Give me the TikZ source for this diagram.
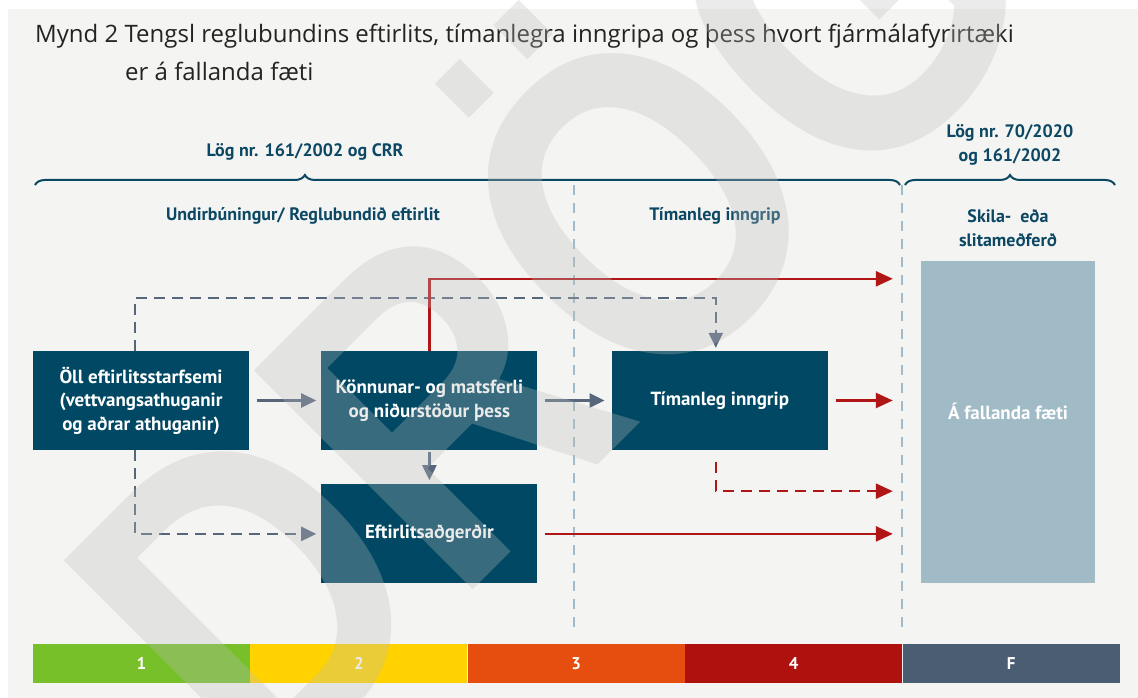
\documentclass[tikz,border=0pt]{standalone}
\usepackage{fontspec}
\setmainfont{PT Sans}
\newfontfamily\titlefont{Open Sans}
\newfontfamily\wmfont{Liberation Sans}
\usepackage{xcolor}
\usepackage{tikz}
\usetikzlibrary{arrows.meta,positioning,decorations.pathreplacing}

\definecolor{pagebg}{RGB}{244,244,242}
\definecolor{boxteal}{RGB}{0,72,99}
\definecolor{headteal}{RGB}{12,72,100}
\definecolor{endblue}{RGB}{160,186,198}
\definecolor{divblue}{RGB}{160,188,202}
\definecolor{arrowgray}{RGB}{86,103,124}
\definecolor{arrowred}{RGB}{176,22,22}
\definecolor{titlegray}{RGB}{35,35,35}
\definecolor{lvlgreen}{RGB}{120,192,42}
\definecolor{lvlyellow}{RGB}{255,210,0}
\definecolor{lvlorange}{RGB}{229,78,14}
\definecolor{lvlred}{RGB}{174,17,14}
\definecolor{lvlslate}{RGB}{74,93,115}
\definecolor{wmgray}{RGB}{188,188,188}

\begin{document}
\begin{tikzpicture}[
    x=1pt, y=1pt,
    box/.style={rectangle, fill=boxteal, text=white, minimum width=216pt, minimum height=99pt, inner sep=0pt, align=center, font=\bfseries\fontsize{19}{23.5}\selectfont},
    endbox/.style={rectangle, fill=endblue, text=white, minimum width=174pt, minimum height=322pt, inner sep=0pt, text depth=22pt, align=center, font=\bfseries\fontsize{19}{23.5}\selectfont},
    head/.style={text=headteal, align=center, inner sep=0pt, font=\bfseries\fontsize{18}{24}\selectfont},
    level/.style={rectangle, minimum width=217pt, minimum height=39pt, inner sep=0pt, text=white, font=\bfseries\fontsize{17}{17}\selectfont},
    grayarrow/.style={-{Triangle[length=15pt,width=14pt]}, line width=2.5pt, draw=arrowgray},
    graydash/.style={grayarrow, dash pattern=on 11pt off 7pt},
    redarrow/.style={-{Triangle[length=17pt,width=15pt]}, line width=2.5pt, draw=arrowred},
    reddash/.style={redarrow, dash pattern=on 11pt off 7pt},
    divider/.style={draw=divblue, line width=2pt, dash pattern=on 10pt off 8pt},
    bracket/.style={draw=headteal, line width=2pt, decorate, decoration={brace, amplitude=10pt}},
    wmark/.style={text=wmgray, text opacity=0.3, inner sep=0pt, font=\wmfont\bfseries\fontsize{450}{450}\selectfont}
]
    \useasboundingbox (0,0) rectangle (1138,698);
    \fill[pagebg] (8,0) rectangle (1138,689);

    % title
    \node[anchor=base west, inner sep=0pt, text=titlegray, font=\titlefont\fontsize{24}{24}\selectfont] (title) at (35,655) {Mynd 2 Tengsl reglubundins eftirlits, tímanlegra inngripa og þess hvort fjármálafyrirtæki};
    \node[anchor=base west, inner sep=0pt, text=titlegray, font=\titlefont\fontsize{24}{24}\selectfont] (title2) at (125,617) {er á fallanda fæti};

    % laws and phases
    \node[head] (law1) at (305,546) {Lög nr. 161/2002 og CRR};
    \node[head] (law2) at (1010,553) {Lög nr. 70/2020\\og 161/2002};
    \draw[bracket, decoration={aspect=0.312}] (35,513) -- (900,513);
    \draw[bracket] (905,513) -- (1115,513);

    \node[head] (prep) at (303,482) {Undirbúningur/ Reglubundið eftirlit};
    \node[head] (early) at (715,482) {Tímanleg inngrip};
    \node[head] (resol) at (1008,470) {Skila-\enspace eða\\slitameðferð};

    \draw[divider] (574,513) -- (574,66);
    \draw[divider] (902,513) -- (902,66);

    % boxes
    \node[box] (oll) at (141,297.5) {Öll eftirlitsstarfsemi\\(vettvangsathuganir\\og aðrar athuganir)};
    \node[box, right=72pt of oll] (konn) {Könnunar- og matsferli\\og niðurstöður þess};
    \node[box, below=34pt of konn] (eftir) {Eftirlitsaðgerðir};
    \node[box, right=74pt of konn] (timan) {Tímanleg inngrip};
    \node[endbox] (afall) at (1008,276) {Á fallanda fæti};

    % connectors
    \draw[grayarrow, shorten <=8pt, shorten >=5pt] (oll) -- (konn);
    \draw[grayarrow, shorten <=7pt, shorten >=7pt] (konn) -- (timan);
    \draw[grayarrow, shorten <=2pt, shorten >=4pt] (konn) -- (eftir);
    \draw[graydash, shorten >=3pt] ([xshift=-6pt]oll.north) -- ++(0,53) -| ([xshift=-4pt]timan.north);
    \draw[graydash, shorten >=5pt] ([xshift=-6pt]oll.south) |- (eftir.west);
    \draw[redarrow, shorten >=28pt] (konn.north) |- ([yshift=-18pt]afall.north west);
    \draw[redarrow, shorten <=8pt, shorten >=28pt] (timan.east) -- (timan.east -| afall.west);
    \draw[reddash, shorten <=12pt, shorten >=28pt] ([xshift=-4pt]timan.south) |- ([yshift=92pt]afall.south west);
    \draw[redarrow, shorten <=7pt, shorten >=28pt] (eftir.east) -- (eftir.east -| afall.west);

    % levels
    \node[level, fill=lvlgreen] (lvl1) at (141.5,34.5) {1};
    \node[level, fill=lvlyellow, right=0pt of lvl1] (lvl2) {2};
    \node[level, fill=lvlorange, right=0pt of lvl2] (lvl3) {3};
    \node[level, fill=lvlred, right=0pt of lvl3] (lvl4) {4};
    \node[level, fill=lvlslate, right=0pt of lvl4] (lvlF) {F};

    % draft watermark
    \node[wmark, rotate=45, anchor=base west] (drog) at (265,-100) {\scalebox{0.83}[1]{DRÖG}};
\end{tikzpicture}
\end{document}
